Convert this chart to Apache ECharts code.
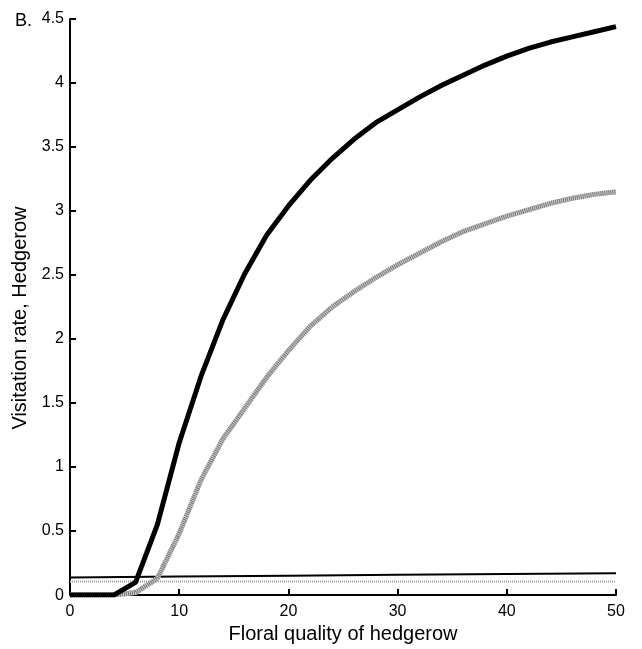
<!DOCTYPE html>
<html>
<head>
<meta charset="utf-8">
<script src="https://cdn.jsdelivr.net/npm/echarts@6/dist/echarts.min.js"></script>
<style>
html,body{margin:0;padding:0;background:#fff;}
#chart{width:642px;height:649px;}
</style>
</head>
<body>
<div id="chart"></div>
<script>
// Floral quality of hedgerow (x)
var xValues = [0,2,4,6,8,10,12,14,16,18,20,22,24,26,28,30,32,34,36,38,40,42,44,46,48,50];
// Thick black curve
var blackThick = [0,0,0,0.10,0.55,1.19,1.71,2.15,2.51,2.81,3.04,3.24,3.41,3.56,3.69,3.79,3.89,3.98,4.06,4.14,4.21,4.27,4.32,4.36,4.40,4.44];
// Thick grey hatched curve
var greyThick = [0,0,0,0.02,0.13,0.48,0.90,1.22,1.46,1.70,1.91,2.10,2.25,2.37,2.48,2.58,2.67,2.76,2.84,2.90,2.96,3.01,3.06,3.10,3.13,3.15];
// Thin baseline lines
var xBase = [0,10,20,30,40,50];
var blackThin = [0.138,0.145,0.152,0.158,0.164,0.17];
var greyThin = [0.107,0.107,0.107,0.107,0.107,0.107];

var yTicks = {min:0, max:4.5, interval:0.5};
var xTicks = {min:0, max:50, interval:10};

function pairs(xs, ys){ return xs.map(function(x,i){ return [x, ys[i]]; }); }

var font = 'Arial, "Liberation Sans", sans-serif';
var chart = echarts.init(document.getElementById('chart'), null, {renderer:'canvas'});
chart.setOption({
  backgroundColor:'#ffffff',
  animation:false,
  title:{text:'B.', left:10, top:7, textStyle:{fontFamily:font, fontSize:18, fontWeight:'normal', color:'#000'}},
  grid:{left:70, right:26, top:19, bottom:53},
  xAxis:{
    type:'value', min:xTicks.min, max:xTicks.max, interval:xTicks.interval,
    name:'Floral quality of hedgerow', nameLocation:'middle', nameGap:27,
    nameTextStyle:{fontFamily:font, fontSize:20, color:'#000'},
    axisLine:{show:true, onZero:false, lineStyle:{color:'#000', width:2}},
    axisTick:{show:true, inside:true, length:6, lineStyle:{color:'#000', width:2}},
    axisLabel:{fontFamily:font, fontSize:16, color:'#000', margin:8},
    splitLine:{show:false}
  },
  yAxis:{
    type:'value', min:yTicks.min, max:yTicks.max, interval:yTicks.interval,
    name:'Visitation rate, Hedgerow', nameLocation:'middle', nameGap:35,
    nameTextStyle:{fontFamily:font, fontSize:20, color:'#000', padding:[0,22,0,0]},
    axisLine:{show:true, onZero:false, lineStyle:{color:'#000', width:2}},
    axisTick:{show:true, inside:true, length:6, lineStyle:{color:'#000', width:2}},
    axisLabel:{fontFamily:font, fontSize:16, color:'#000', margin:6},
    splitLine:{show:false}
  },
  series:[
    {type:'line', data:pairs(xBase, greyThin), showSymbol:false, silent:true,
     lineStyle:{color:'#a0a0a0', width:2, type:[1,1]}},
    {type:'line', data:pairs(xBase, blackThin), showSymbol:false, silent:true,
     lineStyle:{color:'#000', width:2}},
    {type:'line', data:pairs(xValues, greyThick), showSymbol:false, silent:true,
     lineStyle:{color:'#cccccc', width:5}},
    {type:'line', data:pairs(xValues, greyThick), showSymbol:false, silent:true,
     lineStyle:{color:'#777', width:5, type:[1,1], cap:'butt'}},
    {type:'line', data:pairs(xValues, blackThick), showSymbol:false, silent:true,
     lineStyle:{color:'#000', width:5}}
  ]
});
</script>
</body>
</html>
